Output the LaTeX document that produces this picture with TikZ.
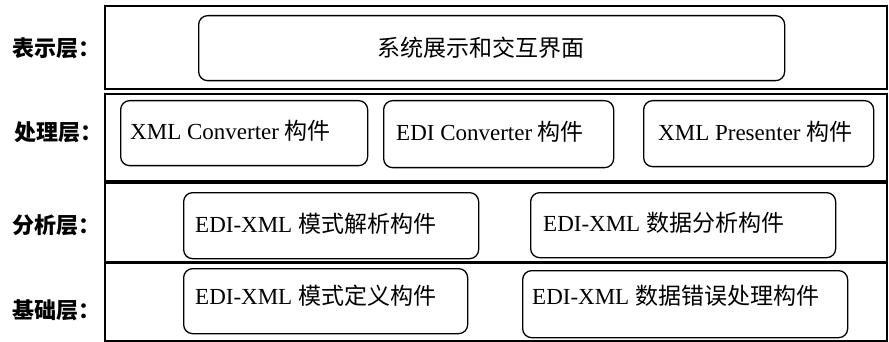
\documentclass[tikz,border=0pt]{standalone}
\usepackage{fontspec}
\setmainfont{Liberation Serif}
\newfontfamily\cjk{Noto Sans CJK SC}
\usetikzlibrary{positioning}
\begin{document}
\begin{tikzpicture}[x=1pt,y=-1pt,
  layer/.style={draw=black,line width=1.6pt,rectangle,anchor=north west,inner sep=0pt},
  comp/.style={draw=black,line width=1.3pt,rectangle,rounded corners=9pt,anchor=north west,inner sep=0pt},
  txt/.style={inner sep=0pt,font=\fontsize{23}{26}\selectfont,anchor=west},
  lbl/.style={inner sep=0pt,font=\fontsize{22}{26}\selectfont\cjk\bfseries,anchor=west}]
\useasboundingbox (0,0) rectangle (889,342);
% layers
\node[layer,minimum width=782pt,minimum height=83pt] (L1) at (104,5) {};
\node[layer,minimum width=782pt,minimum height=87pt] (L2) at (104,93) {};
\node[layer,minimum width=782pt,minimum height=79pt] (L3) at (104,182) {};
\node[layer,minimum width=782pt,minimum height=78pt] (L4) at (104,262) {};
% layer labels
\node[lbl] (n1) at (12,48) {表示层：};
\node[lbl] (n2) at (14,132) {处理层：};
\node[lbl] (n3) at (12,225) {分析层：};
\node[lbl] (n4) at (12,310) {基础层：};
% components
\node[comp,minimum width=586pt,minimum height=65pt] (P) at (198,15) {};
\node[comp,minimum width=247pt,minimum height=65pt] (C1) at (120,100) {};
\node[comp,minimum width=230pt,minimum height=67pt] (C2) at (383,100) {};
\node[comp,minimum width=230pt,minimum height=66pt] (C3) at (643,100) {};
\node[comp,minimum width=295pt,minimum height=66pt] (A1) at (183,192) {};
\node[comp,minimum width=305pt,minimum height=65pt] (A2) at (530,192) {};
\node[comp,minimum width=284pt,minimum height=65pt] (B1) at (183,268) {};
\node[comp,minimum width=325pt,minimum height=67pt] (B2) at (522,270) {};
% texts
\node[txt,anchor=center] (Pt) at ([xshift=-11pt]P.center) {\cjk 系统展示和交互界面};
\node[txt] (C1t) at ([xshift=10pt,yshift=2pt]C1.west) {XML Converter {\cjk 构件}};
\node[txt] (C2t) at ([xshift=13pt,yshift=2pt]C2.west) {EDI Converter {\cjk 构件}};
\node[txt] (C3t) at ([xshift=15pt,yshift=2pt]C3.west) {XML Presenter {\cjk 构件}};
\node[txt] (A1t) at ([xshift=12pt,yshift=2pt]A1.west) {EDI-XML {\cjk 模式解析构件}};
\node[txt] (A2t) at ([xshift=13pt,yshift=2pt]A2.west) {EDI-XML {\cjk 数据分析构件}};
\node[txt] (B1t) at ([xshift=12pt,yshift=5pt]B1.west) {EDI-XML {\cjk 模式定义构件}};
\node[txt] (B2t) at ([xshift=10pt,yshift=8pt]B2.west) {EDI-XML {\cjk 数据错误处理构件}};
\end{tikzpicture}
\end{document}
